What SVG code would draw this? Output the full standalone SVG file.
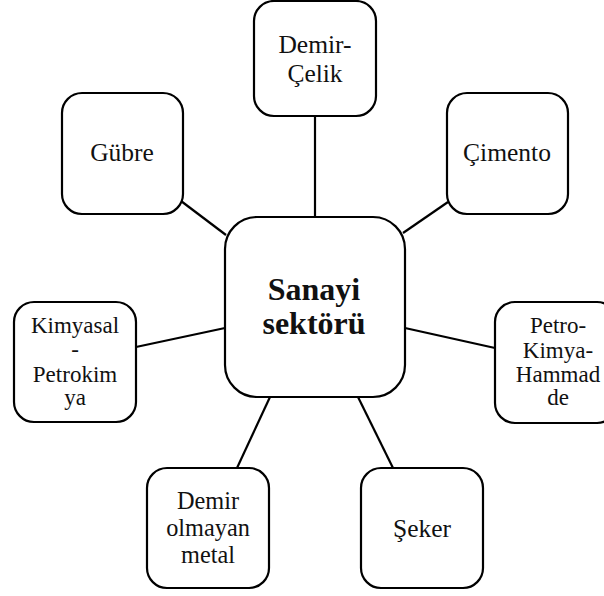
<svg xmlns="http://www.w3.org/2000/svg" width="604" height="596" viewBox="0 0 604 596">
<style>
.box{fill:#fff;stroke:#000;stroke-width:2.2}
.t{font-family:"Liberation Serif","DejaVu Serif",serif;text-anchor:middle;fill:#111}
.m{font-size:25.5px}
.d{font-size:24.3px}
.s{font-size:23px}
.b{font-size:32px;font-weight:bold}
.c line{stroke:#000;stroke-width:2.2}
</style>
<rect width="604" height="596" fill="#fff"/>
<g class="c" id="connectors">
<line x1="315" y1="116" x2="315" y2="217"/>
<line x1="181" y1="201" x2="226" y2="235"/>
<line x1="448" y1="202" x2="403" y2="233"/>
<line x1="136" y1="347" x2="225" y2="328"/>
<line x1="405" y1="328" x2="495" y2="348"/>
<line x1="270" y1="397" x2="237" y2="468"/>
<line x1="358" y1="397" x2="393" y2="468"/>
</g>
<g id="center"><rect class="box" x="225" y="217" width="180" height="180" rx="32"/>
<text class="t b" x="314" y="300">Sanayi</text><text class="t b" x="314" y="334">sektörü</text></g>
<g id="demir-celik"><rect class="box" x="254" y="1" width="122" height="115" rx="20"/>
<text class="t m" x="315" y="53">Demir-</text><text class="t m" x="315" y="82">Çelik</text></g>
<g id="gubre"><rect class="box" x="62" y="93" width="121" height="121" rx="20"/>
<text class="t m" x="122" y="161">Gübre</text></g>
<g id="cimento"><rect class="box" x="447" y="93" width="121" height="121" rx="20"/>
<text class="t m" x="507" y="161">Çimento</text></g>
<g id="kimyasal"><rect class="box" x="14" y="302" width="122" height="120" rx="20"/>
<text class="t s" x="75" y="333">Kimyasal</text><text class="t s" x="75" y="357">-</text><text class="t s" x="75" y="382">Petrokim</text><text class="t s" x="75" y="405">ya</text></g>
<g id="petro"><rect class="box" x="495" y="302" width="122" height="121" rx="20"/>
<text class="t s" x="558" y="333">Petro-</text><text class="t s" x="558" y="358">Kimya-</text><text class="t s" x="558" y="382">Hammad</text><text class="t s" x="558" y="405">de</text></g>
<g id="demir-olmayan"><rect class="box" x="147" y="468" width="122" height="120" rx="20"/>
<text class="t d" x="208" y="509">Demir</text><text class="t d" x="208" y="536">olmayan</text><text class="t d" x="208" y="563">metal</text></g>
<g id="seker"><rect class="box" x="361" y="468" width="122" height="120" rx="20"/>
<text class="t m" x="422" y="537">Şeker</text></g>
</svg>
